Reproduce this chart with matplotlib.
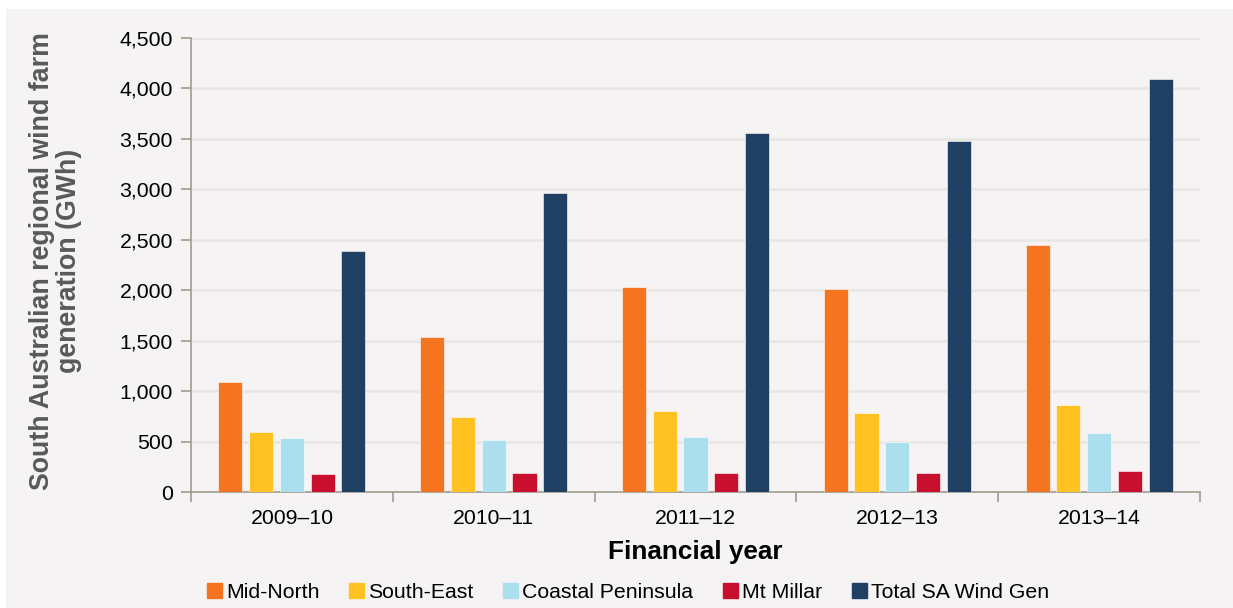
import matplotlib.pyplot as plt
import matplotlib.patches as mpatches
import numpy as np

plt.rcParams['font.family'] = ['Liberation Sans', 'DejaVu Sans']

# data (GWh)
years = ['2009–10', '2010–11', '2011–12', '2012–13', '2013–14']
mid_north = [1090, 1536, 2032, 2015, 2450]
south_east = [595, 743, 800, 786, 859]
coastal_peninsula = [535, 515, 545, 499, 588]
mt_millar = [178, 188, 191, 188, 208]
total_sa = [2389, 2964, 3558, 3479, 4094]

series = ['Mid-North', 'South-East', 'Coastal Peninsula', 'Mt Millar', 'Total SA Wind Gen']
colors = ['#f47421', '#ffc222', '#abdfee', '#c8102e', '#1f3f63']

BG = '#f5f3f4'
SPINE = '#a39a8e'

fig = plt.figure(figsize=(12.33, 6.08), dpi=100, facecolor=BG)
# white margin strips at top and left
fig.patches.append(mpatches.Rectangle((0, 1 - 9 / 608), 1, 9 / 608, transform=fig.transFigure,
                                      facecolor='white', edgecolor='none'))
fig.patches.append(mpatches.Rectangle((0, 0), 6 / 1233, 1, transform=fig.transFigure,
                                      facecolor='white', edgecolor='none'))

ax = fig.add_axes([191 / 1233, 1 - 492 / 608, 1009 / 1233, 454 / 608])
ax.set_facecolor(BG)

x = np.arange(len(years))
width = 0.119
pitch = 0.1526
values = [mid_north, south_east, coastal_peninsula, mt_millar, total_sa]
for i, (vals, color, name) in enumerate(zip(values, colors, series)):
    ax.bar(x + (i - 2) * pitch, vals, width, color=color, label=name,
           edgecolor='white', linewidth=0.4, zorder=3)

ax.set_xlim(-0.5, len(years) - 0.5)
ax.set_ylim(0, 4500)
ax.set_yticks(np.arange(0, 4501, 500))
ax.set_yticklabels([f'{v:,}' for v in range(0, 4501, 500)])
ax.yaxis.grid(True, color='#e9e7e4', linewidth=2, zorder=0)
ax.set_axisbelow(True)

ax.set_xticks(x)
ax.set_xticklabels(years)
ax.set_xticks(np.arange(-0.5, len(years)), minor=True)
ax.tick_params(axis='x', which='major', length=0, pad=12, labelsize=15.3)
ax.tick_params(axis='x', which='minor', length=7, color=SPINE, width=1.2)
ax.tick_params(axis='y', length=7, color=SPINE, width=1.2, pad=6, labelsize=15.3)

for side in ['top', 'right']:
    ax.spines[side].set_visible(False)
for side in ['left', 'bottom']:
    ax.spines[side].set_color(SPINE)
    ax.spines[side].set_linewidth(1.2)

fig.text(56 / 1233, 1 - 261 / 608, 'South Australian regional wind farm\ngeneration (GWh)',
         rotation=90, ha='center', va='center', multialignment='center',
         fontsize=19.3, fontweight='bold', color='#595959', linespacing=1.05)

fig.text(695 / 1233, 1 - 552 / 608, 'Financial year', ha='center', va='center',
         fontsize=18.8, fontweight='bold', color='black')

handles = [mpatches.Patch(color=c) for c in colors]
fig.legend(handles, series, loc='center', ncol=5,
           bbox_to_anchor=(628 / 1233, 1 - 592 / 608), bbox_transform=fig.transFigure,
           frameon=False, fontsize=15.3, handlelength=0.7, handleheight=0.7,
           handletextpad=0.2, columnspacing=1.4)

fig.savefig('out.png', dpi=100, facecolor=BG)
